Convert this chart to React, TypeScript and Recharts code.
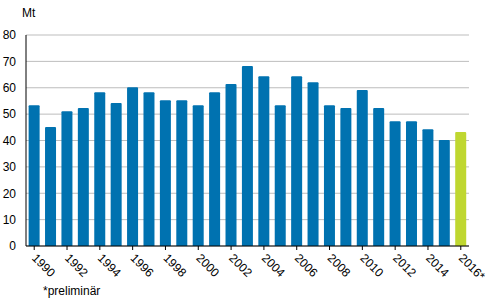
import { Bar, BarChart, CartesianGrid, Cell, XAxis, YAxis } from "recharts";

const years = [
  "1990", "1991", "1992", "1993", "1994", "1995", "1996", "1997", "1998", "1999",
  "2000", "2001", "2002", "2003", "2004", "2005", "2006", "2007", "2008", "2009",
  "2010", "2011", "2012", "2013", "2014", "2015", "2016*",
];
const values = [
  53.4, 45.1, 51.1, 52.3, 58.3, 54.2, 60.2, 58.3, 55.3, 55.3,
  53.4, 58.3, 61.4, 68.2, 64.4, 53.4, 64.4, 62.1, 53.4, 52.3,
  59.1, 52.3, 47.3, 47.3, 44.3, 40.2, 43.2,
];
const yTicks = [0, 10, 20, 30, 40, 50, 60, 70, 80];

const BLUE = "#0072b0";
const GREEN = "#bfd730";
const FONT = "'Liberation Sans', Arial, sans-serif";

const data = years.map((year, i) => ({ year, value: values[i] }));

function YearTick({ x, y, payload }: any) {
  const ty = y + 4;
  return (
    <text
      x={x}
      y={ty}
      dy={4}
      transform={`rotate(45, ${x}, ${ty})`}
      textAnchor="start"
      fontSize={12}
      fontFamily={FONT}
      fill="#000"
    >
      {payload.value}
    </text>
  );
}

export default function App() {
  return (
    <div style={{ position: "absolute", left: 0, top: 0, width: 491, height: 303, background: "#fff", fontFamily: FONT }}>
      <BarChart width={491} height={303} data={data} margin={{ top: 35, right: 22, bottom: 0, left: 0 }} barCategoryGap="16%">
        <CartesianGrid vertical={false} stroke="#bdbdbd" strokeWidth={1} />
        <XAxis
          dataKey="year"
          interval={1}
          tick={<YearTick />}
          tickLine={{ stroke: "#000" }}
          tickSize={4}
          axisLine={{ stroke: "#000" }}
          height={57}
        />
        <YAxis
          domain={[0, 80]}
          ticks={yTicks}
          width={26}
          tickLine={false}
          axisLine={{ stroke: "#000" }}
          tickSize={0}
          tickMargin={10}
          tick={{ fontSize: 12, fill: "#000", fontFamily: FONT }}
        />
        <Bar dataKey="value" isAnimationActive={false} radius={[1, 1, 0, 0]}>
          {data.map((d, i) => (
            <Cell key={d.year} fill={i === data.length - 1 ? GREEN : BLUE} />
          ))}
        </Bar>
      </BarChart>
      <div style={{ position: "absolute", left: 22, top: 6, fontSize: 12 }}>Mt</div>
      <div style={{ position: "absolute", left: 43, top: 284, fontSize: 12 }}>*preliminär</div>
    </div>
  );
}
